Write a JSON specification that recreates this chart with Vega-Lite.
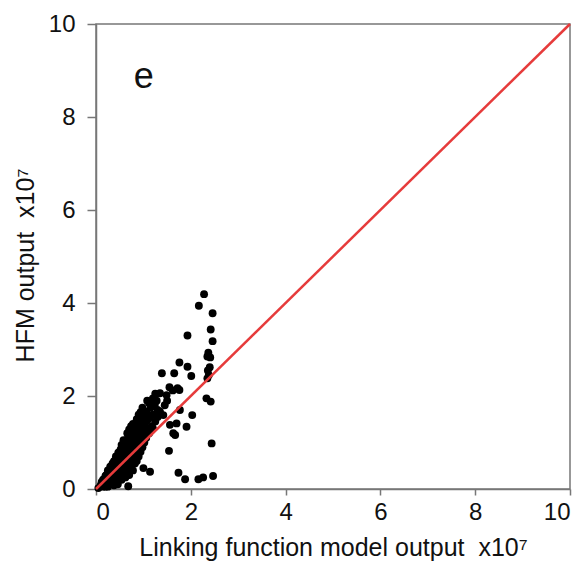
{
  "$schema": "https://vega.github.io/schema/vega-lite/v6.json",
  "autosize": {"type": "none"},
  "width": 474,
  "height": 465,
  "padding": {"left": 96, "top": 24, "right": 12, "bottom": 80},
  "background": "white",
  "config": {
    "view": {"stroke": "#777777", "strokeWidth": 1.5},
    "font": "Liberation Sans",
    "axis": {
      "grid": false,
      "domainColor": "#777777",
      "domainWidth": 1.5,
      "tickColor": "#777777",
      "tickWidth": 1.5,
      "labelColor": "#111111",
      "titleColor": "#111111",
      "labelFont": "Liberation Sans",
      "titleFont": "Liberation Sans",
      "labelFontSize": 24,
      "titleFontWeight": "normal"
    }
  },
  "layer": [
    {
      "data": {"values": [
        {"x":2.28,"y":4.19},{"x":2.17,"y":3.94},{"x":2.46,"y":3.78},{"x":2.42,"y":3.43},{"x":1.93,"y":3.30},{"x":2.46,"y":3.18},
        {"x":2.37,"y":2.93},{"x":2.35,"y":2.85},{"x":2.41,"y":2.83},{"x":1.76,"y":2.72},{"x":1.93,"y":2.63},{"x":1.39,"y":2.49},
        {"x":1.65,"y":2.49},{"x":2.01,"y":2.43},{"x":2.36,"y":2.55},{"x":2.38,"y":2.45},{"x":2.35,"y":2.38},{"x":2.40,"y":2.62},
        {"x":1.55,"y":2.19},{"x":1.72,"y":2.17},{"x":1.62,"y":2.12},{"x":1.76,"y":2.13},{"x":1.35,"y":2.06},{"x":1.49,"y":2.02},
        {"x":2.33,"y":1.95},{"x":2.42,"y":1.88},{"x":1.24,"y":1.81},{"x":1.07,"y":1.66},{"x":1.14,"y":1.55},{"x":1.35,"y":1.66},
        {"x":1.42,"y":1.59},{"x":1.77,"y":1.70},{"x":2.03,"y":1.59},{"x":1.56,"y":1.38},{"x":1.70,"y":1.41},{"x":1.91,"y":1.34},
        {"x":1.63,"y":1.20},{"x":1.67,"y":1.16},{"x":2.44,"y":0.98},{"x":1.54,"y":0.82},{"x":1.0,"y":0.45},{"x":1.14,"y":0.37},
        {"x":1.74,"y":0.35},{"x":1.88,"y":0.21},{"x":2.16,"y":0.21},{"x":2.26,"y":0.25},{"x":2.47,"y":0.28},{"x":0.68,"y":0.06},
        {"x":1.15,"y":1.75},{"x":1.2,"y":1.6},{"x":1.25,"y":1.45},{"x":1.3,"y":1.7},{"x":1.28,"y":1.9},{"x":1.18,"y":1.35},
        {"x":1.45,"y":1.8},{"x":1.5,"y":1.9},{"x":1.3,"y":1.55},
        {"x":0.05,"y":0.02},{"x":0.1,"y":0.08},{"x":0.12,"y":0.15},{"x":0.15,"y":0.1},{"x":0.18,"y":0.22},{"x":0.2,"y":0.15},
        {"x":0.22,"y":0.3},{"x":0.25,"y":0.2},{"x":0.25,"y":0.35},{"x":0.28,"y":0.28},{"x":0.3,"y":0.42},{"x":0.3,"y":0.2},
        {"x":0.32,"y":0.35},{"x":0.33,"y":0.5},{"x":0.35,"y":0.28},{"x":0.36,"y":0.45},{"x":0.38,"y":0.6},{"x":0.4,"y":0.35},
        {"x":0.4,"y":0.52},{"x":0.42,"y":0.7},{"x":0.43,"y":0.42},{"x":0.45,"y":0.6},{"x":0.45,"y":0.3},{"x":0.47,"y":0.78},
        {"x":0.48,"y":0.5},{"x":0.5,"y":0.68},{"x":0.5,"y":0.4},{"x":0.52,"y":0.85},{"x":0.53,"y":0.58},{"x":0.55,"y":0.72},
        {"x":0.55,"y":0.45},{"x":0.57,"y":0.92},{"x":0.58,"y":0.62},{"x":0.6,"y":0.8},{"x":0.6,"y":0.5},{"x":0.62,"y":1.0},
        {"x":0.63,"y":0.68},{"x":0.65,"y":0.88},{"x":0.65,"y":0.55},{"x":0.67,"y":1.08},{"x":0.68,"y":0.75},{"x":0.7,"y":0.95},
        {"x":0.7,"y":0.62},{"x":0.72,"y":1.15},{"x":0.73,"y":0.8},{"x":0.75,"y":1.02},{"x":0.75,"y":0.7},{"x":0.77,"y":1.22},
        {"x":0.78,"y":0.88},{"x":0.8,"y":1.1},{"x":0.8,"y":0.78},{"x":0.82,"y":1.3},{"x":0.83,"y":0.95},{"x":0.85,"y":1.18},
        {"x":0.87,"y":1.38},{"x":0.88,"y":1.02},{"x":0.9,"y":1.25},{"x":0.92,"y":1.45},{"x":0.93,"y":1.1},{"x":0.95,"y":1.32},
        {"x":0.97,"y":1.52},{"x":1.0,"y":1.2},{"x":1.02,"y":1.4},{"x":1.05,"y":1.6},{"x":1.08,"y":1.3},{"x":1.1,"y":1.5},
        {"x":0.35,"y":0.15},{"x":0.4,"y":0.2},{"x":0.5,"y":0.25},{"x":0.55,"y":0.3},{"x":0.6,"y":0.35},{"x":0.45,"y":0.15},
        {"x":0.3,"y":0.1},{"x":0.2,"y":0.05},{"x":0.65,"y":0.4},{"x":0.7,"y":0.45},
        {"x":0.15,"y":0.05},{"x":0.15,"y":0.2},{"x":0.2,"y":0.1},{"x":0.2,"y":0.28},{"x":0.25,"y":0.05},{"x":0.25,"y":0.4},
        {"x":0.3,"y":0.15},{"x":0.3,"y":0.48},{"x":0.35,"y":0.22},{"x":0.35,"y":0.55},{"x":0.38,"y":0.08},{"x":0.38,"y":0.38},
        {"x":0.42,"y":0.25},{"x":0.42,"y":0.62},{"x":0.46,"y":0.45},{"x":0.46,"y":0.1},{"x":0.5,"y":0.3},{"x":0.5,"y":0.8},
        {"x":0.5,"y":0.55},{"x":0.54,"y":0.2},{"x":0.54,"y":0.65},{"x":0.54,"y":0.95},{"x":0.58,"y":0.4},{"x":0.58,"y":0.75},
        {"x":0.58,"y":1.05},{"x":0.62,"y":0.25},{"x":0.62,"y":0.6},{"x":0.62,"y":0.85},{"x":0.66,"y":0.45},{"x":0.66,"y":0.7},
        {"x":0.66,"y":1.2},{"x":0.7,"y":0.3},{"x":0.7,"y":0.85},{"x":0.7,"y":1.28},{"x":0.74,"y":0.55},{"x":0.74,"y":0.9},
        {"x":0.74,"y":1.35},{"x":0.78,"y":0.4},{"x":0.78,"y":0.65},{"x":0.78,"y":1.0},{"x":0.78,"y":1.4},{"x":0.82,"y":0.55},
        {"x":0.82,"y":0.75},{"x":0.82,"y":1.1},{"x":0.86,"y":0.6},{"x":0.86,"y":0.85},{"x":0.86,"y":1.5},{"x":0.9,"y":0.7},
        {"x":0.9,"y":1.0},{"x":0.9,"y":1.6},{"x":0.94,"y":0.8},{"x":0.94,"y":1.2},{"x":0.94,"y":1.65},{"x":0.98,"y":0.9},
        {"x":0.98,"y":1.05},{"x":0.98,"y":1.75},{"x":1.02,"y":1.0},{"x":1.02,"y":1.3},{"x":1.06,"y":1.1},{"x":1.06,"y":1.45},
        {"x":1.12,"y":1.2},{"x":1.12,"y":1.85},{"x":1.2,"y":1.3},{"x":1.2,"y":1.95},{"x":1.25,"y":2.05},{"x":1.08,"y":1.9}
      ]},
      "mark": {"type": "point", "filled": true, "color": "black", "opacity": 1, "size": 62},
      "encoding": {
        "x": {"field": "x", "type": "quantitative", "scale": {"domain": [0, 10], "nice": false},
              "axis": {"values": [0,2,4,6,8,10], "tickSize": 6, "labelPadding": 5, "title": "Linking function model output\u00a0 x10⁷", "titleFontSize": 25, "titlePadding": 11}},
        "y": {"field": "y", "type": "quantitative", "scale": {"domain": [0, 10], "nice": false},
              "axis": {"values": [0,2,4,6,8,10], "tickSize": 9, "labelPadding": 12, "title": "HFM output\u00a0 x10⁷", "titleFontSize": 25, "titlePadding": 10, "titleY": 241}}
      }
    },
    {
      "data": {"values": [{"x": 0, "y": 0}, {"x": 10, "y": 10}]},
      "mark": {"type": "line", "color": "#e63b3b", "strokeWidth": 2.5},
      "encoding": {
        "x": {"field": "x", "type": "quantitative"},
        "y": {"field": "y", "type": "quantitative"}
      }
    },
    {
      "data": {"values": [{"x": 1.01, "y": 8.87, "label": "e"}]},
      "mark": {"type": "text", "fontSize": 36, "font": "Liberation Sans", "color": "#111111", "align": "center", "baseline": "middle"},
      "encoding": {
        "x": {"field": "x", "type": "quantitative"},
        "y": {"field": "y", "type": "quantitative"},
        "text": {"field": "label"}
      }
    }
  ]
}
